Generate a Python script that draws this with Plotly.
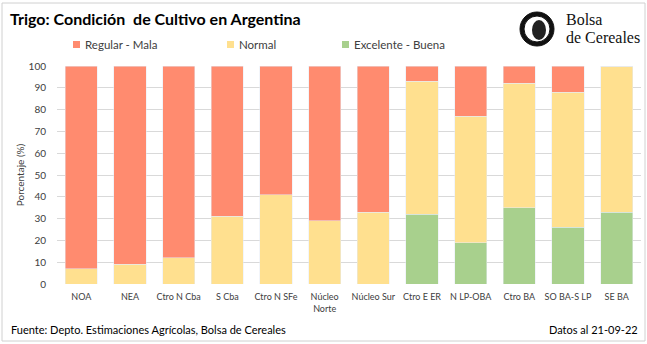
import plotly.graph_objects as go

categories = ["NOA", "NEA", "Ctro N Cba", "S Cba", "Ctro N SFe", "Núcleo<br>Norte",
              "Núcleo Sur", "Ctro E ER", "N LP-OBA", "Ctro BA", "SO BA-S LP", "SE BA"]
excelente_buena = [0, 0, 0, 0, 0, 0, 0, 32, 19, 35, 26, 33]
normal = [7, 9, 12, 31, 41, 29, 33, 61, 58, 57, 62, 67]
regular_mala = [93, 91, 88, 69, 59, 71, 67, 7, 23, 8, 12, 0]
y_ticks = [0, 10, 20, 30, 40, 50, 60, 70, 80, 90, 100]

C_RM = "#FF8B6F"
C_N = "#FFE08F"
C_EB = "#A8D08D"
FONT = "Lato"

W, H = 647, 344
L, R, T, B = 57, 6, 66, 60
PW, PH = W - L - R, H - T - B

def px(x):
    return (x - L) / PW

def py(y):
    return (H - B - y) / PH

fig = go.Figure()
fig.add_bar(x=categories, y=excelente_buena, name="Excelente - Buena", marker_color=C_EB)
fig.add_bar(x=categories, y=normal, name="Normal", marker_color=C_N)
fig.add_bar(x=categories, y=regular_mala, name="Regular - Mala", marker_color=C_RM)

fig.update_layout(
    width=W, height=H, barmode="stack", bargap=0.34,
    margin=dict(l=L, r=R, t=T, b=B),
    paper_bgcolor="white", plot_bgcolor="white",
    showlegend=False,
    font=dict(family=FONT, size=10, color="#404040"),
)
fig.update_yaxes(range=[0, 100], tickvals=y_ticks, gridcolor="#D9D9D9", gridwidth=1,
                 zeroline=False, showline=False, ticks="", fixedrange=True,
                 ticklabelstandoff=10,
                 tickfont=dict(size=10, color="#404040"),
                 title=dict(text="Porcentaje (%)", font=dict(size=10, color="#404040"), standoff=2))
fig.update_xaxes(showline=False, ticks="", ticklabelstandoff=6,
                 tickfont=dict(size=9, color="#404040"))

shapes = []
annotations = []
# outer border
shapes.append(dict(type="rect", xref="paper", yref="paper", x0=px(2), x1=px(645), y0=py(341), y1=py(3),
                   line=dict(color="#D0D0D0", width=1), fillcolor="rgba(0,0,0,0)", layer="below"))
# title
annotations.append(dict(text="<b>Trigo: Condición  de Cultivo en Argentina</b>", xref="paper", yref="paper",
                        x=px(8), y=py(18), xanchor="left", yanchor="middle", showarrow=False,
                        font=dict(family=FONT, size=16, color="#000000")))
# legend
legend_items = [("Regular - Mala", C_RM, 73), ("Normal", C_N, 227), ("Excelente - Buena", C_EB, 342)]
for name, col, x0 in legend_items:
    shapes.append(dict(type="rect", xref="paper", yref="paper", x0=px(x0), x1=px(x0 + 7),
                       y0=py(48), y1=py(41), fillcolor=col, line=dict(width=0)))
    annotations.append(dict(text=name, xref="paper", yref="paper", x=px(x0 + 10), y=py(44.5),
                            xanchor="left", yanchor="middle", showarrow=False,
                            font=dict(family=FONT, size=11.5, color="#404040")))
# logo
cx, cy, r = 537, 29, 17
shapes.append(dict(type="circle", xref="paper", yref="paper", x0=px(cx - r), x1=px(cx + r),
                   y0=py(cy + r), y1=py(cy - r), fillcolor="#111111", line=dict(color="#111111", width=1)))
r2 = 13
shapes.append(dict(type="circle", xref="paper", yref="paper", x0=px(cx - r2), x1=px(cx + r2),
                   y0=py(cy + r2), y1=py(cy - r2), fillcolor="#FFFFFF", line=dict(color="#111111", width=1)))
shapes.append(dict(type="circle", xref="paper", yref="paper", x0=px(cx - 5), x1=px(cx + 9),
                   y0=py(cy + 11), y1=py(cy - 9), fillcolor="#222222", line=dict(width=0)))
annotations.append(dict(text="Bolsa", xref="paper", yref="paper", x=px(564), y=py(20),
                        xanchor="left", yanchor="middle", showarrow=False,
                        font=dict(family="Liberation Serif", size=16, color="#111111")))
annotations.append(dict(text="de Cereales", xref="paper", yref="paper", x=px(564), y=py(37),
                        xanchor="left", yanchor="middle", showarrow=False,
                        font=dict(family="Liberation Serif", size=16, color="#111111")))
# footer
annotations.append(dict(text="Fuente: Depto. Estimaciones Agrícolas, Bolsa de Cereales", xref="paper", yref="paper",
                        x=px(9), y=py(329), xanchor="left", yanchor="middle", showarrow=False,
                        font=dict(family=FONT, size=11, color="#000000")))
annotations.append(dict(text="Datos al 21-09-22", xref="paper", yref="paper",
                        x=px(640), y=py(329), xanchor="right", yanchor="middle", showarrow=False,
                        font=dict(family=FONT, size=11, color="#000000")))

fig.update_layout(shapes=shapes, annotations=annotations)
fig.write_html("out.html")
